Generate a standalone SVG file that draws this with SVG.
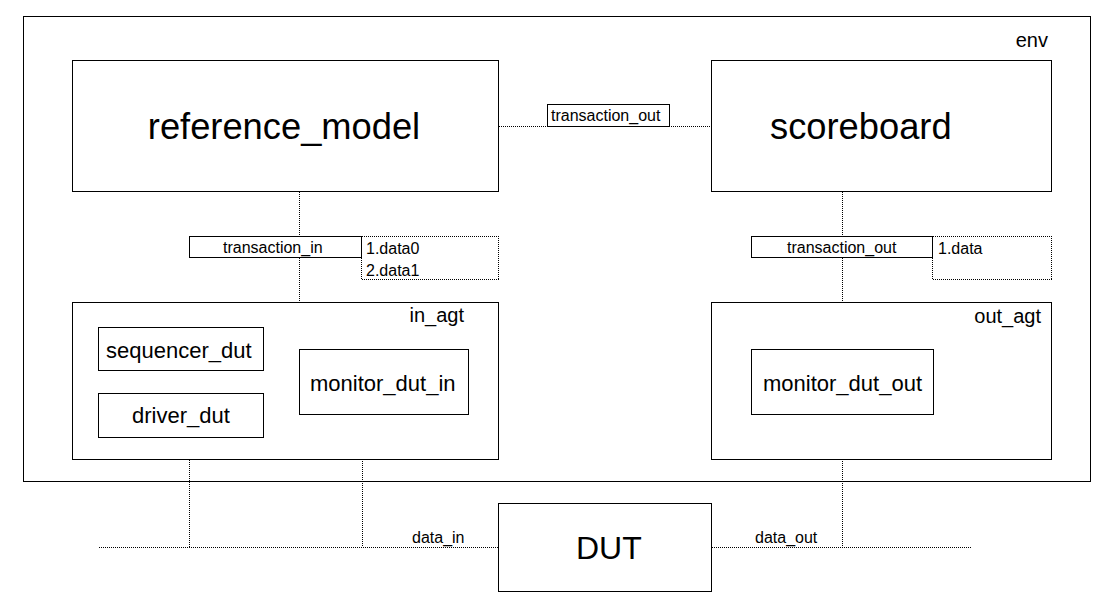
<svg xmlns="http://www.w3.org/2000/svg" width="1118" height="615" viewBox="0 0 1118 615">
<style>
.box{fill:#fff;stroke:#000;stroke-width:1}
.note{fill:none;stroke:#000;stroke-width:1;stroke-dasharray:1 1;shape-rendering:crispEdges}
.con{fill:none;stroke:#000;stroke-width:1;stroke-dasharray:1 1;shape-rendering:crispEdges}
text{font-family:"Liberation Sans",Arial,sans-serif;fill:#000}
.t16{font-size:16px}
.t20{font-size:20px}
.t22{font-size:22px}
.t36{font-size:36.3px}
.t32{font-size:32px}
</style>
<rect width="1118" height="615" fill="#fff"/>
<g id="env">
<rect class="box" x="23.5" y="16.5" width="1067" height="465"/>
<text class="t20" x="1048" y="47" text-anchor="end">env</text>
</g>
<g id="connectors">
<line class="con" x1="499" y1="126.5" x2="711" y2="126.5"/>
<line class="con" x1="299.5" y1="192" x2="299.5" y2="302"/>
<line class="con" x1="842.5" y1="192" x2="842.5" y2="302"/>
<line class="con" x1="189.5" y1="371" x2="189.5" y2="393"/>
<line class="con" x1="189.5" y1="438" x2="189.5" y2="547"/>
<line class="con" x1="362.5" y1="415" x2="362.5" y2="547"/>
<line class="con" x1="842.5" y1="415" x2="842.5" y2="547"/>
<line class="con" x1="99" y1="547.5" x2="498" y2="547.5"/>
<line class="con" x1="712" y1="547.5" x2="972" y2="547.5"/>
</g>
<g id="reference_model">
<rect class="box" x="72.5" y="60.5" width="426" height="131"/>
<text class="t36" x="284" y="139" text-anchor="middle">reference_model</text>
</g>
<g id="scoreboard">
<rect class="box" x="711.5" y="60.5" width="340" height="131"/>
<text class="t36" x="770" y="139">scoreboard</text>
</g>
<g id="label_transaction_out_top">
<rect class="box" x="547.5" y="104.5" width="122" height="22"/>
<text class="t16" x="551" y="121">transaction_out</text>
</g>
<g id="label_transaction_in">
<rect class="box" x="189.5" y="236.5" width="172" height="21"/>
<text class="t16" x="223" y="253">transaction_in</text>
<rect class="note" x="361.5" y="236.5" width="137" height="43"/>
<text class="t16" x="366" y="254">1.data0</text>
<text class="t16" x="366" y="276">2.data1</text>
</g>
<g id="label_transaction_out_right">
<rect class="box" x="751.5" y="236.5" width="181" height="21"/>
<text class="t16" x="787" y="253">transaction_out</text>
<rect class="note" x="932.5" y="236.5" width="119" height="43"/>
<text class="t16" x="938" y="254">1.data</text>
</g>
<g id="in_agt">
<rect class="box" x="72.5" y="302.5" width="426" height="157"/>
<text class="t20" x="464" y="322" text-anchor="end">in_agt</text>
</g>
<g id="out_agt">
<rect class="box" x="711.5" y="302.5" width="340" height="157"/>
<text class="t20" x="1041" y="323" text-anchor="end">out_agt</text>
</g>
<g id="sequencer_dut">
<rect class="box" x="98.5" y="327.5" width="165" height="43"/>
<text class="t22" x="106" y="358">sequencer_dut</text>
</g>
<g id="driver_dut">
<rect class="box" x="98.5" y="393.5" width="165" height="44"/>
<text class="t22" x="132" y="423">driver_dut</text>
</g>
<g id="monitor_dut_in">
<rect class="box" x="299.5" y="349.5" width="169" height="65"/>
<text class="t22" x="310" y="391">monitor_dut_in</text>
</g>
<g id="monitor_dut_out">
<rect class="box" x="751.5" y="349.5" width="182" height="65"/>
<text class="t22" x="763" y="391">monitor_dut_out</text>
</g>
<g id="DUT">
<rect class="box" x="498.5" y="503.5" width="213" height="88"/>
<text class="t32" x="576" y="559">DUT</text>
</g>
<g id="port_labels">
<text class="t16" x="412" y="543">data_in</text>
<text class="t16" x="755" y="543">data_out</text>
</g>
</svg>
